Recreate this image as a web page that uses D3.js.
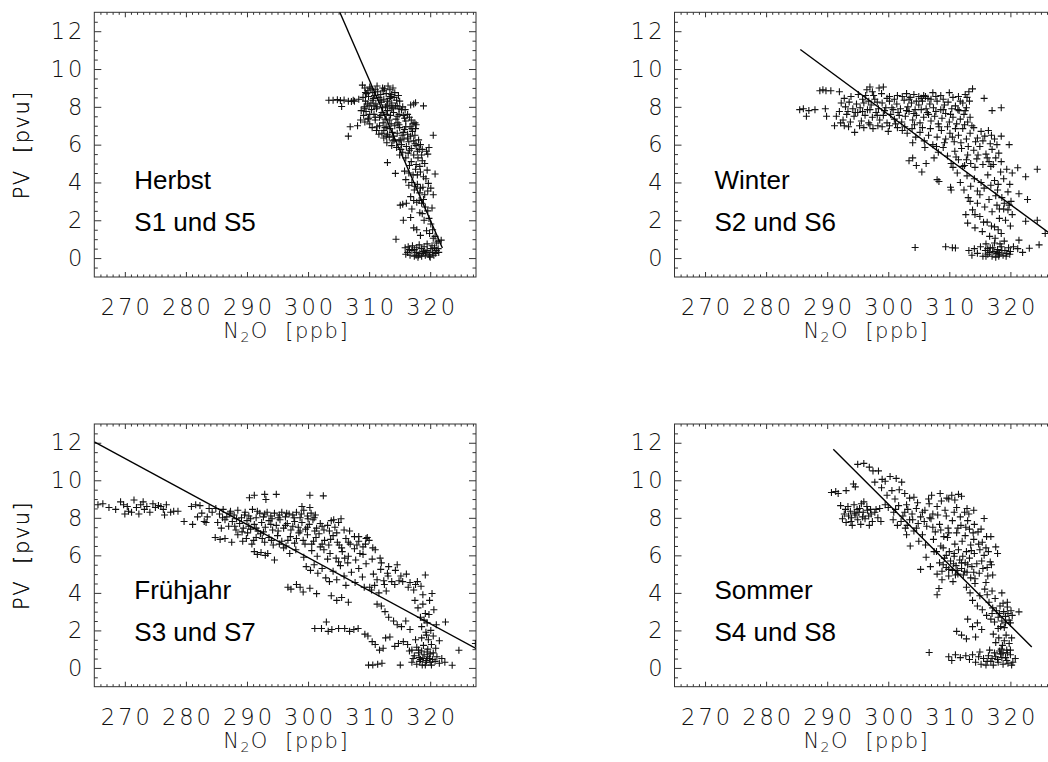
<!DOCTYPE html>
<html><head><meta charset="utf-8">
<script src="https://cdn.jsdelivr.net/npm/d3@7"></script>
<style>
body{margin:0;background:#fff;}
text{white-space:pre;}
</style></head>
<body>
<script>
// ---------- data ----------
const xTickValues = [270, 280, 290, 300, 310, 320];
const yTickValues = [0, 2, 4, 6, 8, 10, 12];
const xDomain = [265, 327.5];
const yDomain = [-1, 13];
const seasonNames = ["Herbst", "Winter", "Frühjahr", "Sommer"];
const flightNames = ["S1 und S5", "S2 und S6", "S3 und S7", "S4 und S8"];

// regression lines [[N2O, PV], [N2O, PV]]
const herbstLine = [[305.2, 13.0], [322.0, 0.53]];
const winterLine = [[285.6, 11.03], [327.5, 1.05]];
const fruehjahrLine = [[265.0, 12.05], [327.8, 0.98]];
const sommerLine = [[291.0, 11.65], [323.5, 1.12]];

const herbstPoints = [
[303.4,8.35],[304.1,8.35],[304.8,8.38],[305.3,8.33],[305.9,8.36],[306.6,8.3],[307.1,8.28],[307.4,8.35],[307.6,8.3],[308.3,8.4],[305.5,8.02],[306.9,6.95],[308.1,7.0],[306.6,6.45],
[308.9,9.15],[309.3,9.0],[309.8,8.85],[310.1,9.05],[310.6,8.75],[311.0,8.9],[311.4,8.8],[311.9,8.65],[312.3,8.85],[312.8,8.7],[313.1,9.1],[313.4,8.9],[313.9,9.0],[314.2,8.75],[309.6,8.7],[310.9,8.6],[312.5,8.95],[313.7,8.65],
[309.0,8.5],[309.4,8.3],[309.9,8.55],[310.3,8.2],[310.7,8.45],[311.1,8.15],[311.6,8.5],[312.0,8.25],[312.4,8.4],[312.9,8.1],[313.3,8.45],[313.7,8.2],[314.1,8.5],[314.6,8.05],[315.0,8.3],[314.8,8.6],[315.5,8.0],[316.8,8.1],[317.3,8.15],[317.6,8.22],[318.9,8.05],[309.2,8.0],[310.0,8.05],[311.3,8.0],[312.7,8.0],[313.9,7.95],
[308.7,7.8],[309.1,7.55],[309.5,7.75],[309.9,7.4],[310.4,7.85],[310.8,7.6],[311.2,7.9],[311.7,7.45],[312.1,7.7],[312.6,7.35],[313.0,7.8],[313.5,7.55],[314.0,7.7],[314.4,7.35],[314.9,7.6],[315.3,7.85],[315.8,7.4],[316.3,7.6],[316.9,7.3],[308.6,7.3],[309.3,7.2],[309.8,7.35],[311.0,7.3],[312.3,7.15],[313.3,7.3],[314.7,7.15],[316.0,7.25],[317.2,7.1],[317.5,7.15],[317.7,7.05],
[310.5,6.9],[311.2,6.75],[311.7,7.0],[312.1,6.6],[312.6,6.9],[313.0,6.55],[313.4,6.85],[313.8,6.65],[314.2,7.0],[314.6,6.6],[315.0,6.9],[315.4,6.5],[315.8,6.8],[316.3,6.55],[316.7,6.95],[317.1,6.7],[317.6,6.85],[311.6,6.55],[312.9,6.95],[314.0,6.45],[315.6,6.65],
[312.4,6.35],[312.9,6.1],[313.3,6.4],[313.7,5.95],[314.1,6.25],[314.5,5.85],[314.9,6.2],[315.3,6.0],[315.7,6.3],[316.1,5.9],[316.5,6.15],[316.9,5.8],[317.3,6.2],[317.7,5.95],[318.1,6.25],[318.4,6.0],[316.8,6.45],[317.5,6.5],[320.5,6.5],[319.8,5.85],[319.4,5.65],[318.7,5.75],
[315.0,5.45],[315.5,5.6],[316.0,5.3],[316.4,5.55],[316.9,5.1],[317.3,5.45],[317.7,4.95],[318.0,5.3],[318.3,4.85],[318.7,5.15],[319.1,5.0],[317.6,4.7],[316.5,4.5],[315.8,4.6],[317.2,4.4],[318.4,4.55],[319.5,4.65],[313.0,5.05],[314.3,4.48],[320.8,4.45],[319.6,5.5],
[316.0,4.15],[316.5,3.85],[317.0,4.0],[317.4,3.6],[317.9,3.9],[318.3,3.45],[318.8,3.75],[319.1,3.35],[319.6,3.55],[320.1,3.7],[320.5,3.35],[316.8,3.25],[317.3,3.05],[317.8,2.95],[318.2,3.05],[318.6,2.9],[318.9,3.1],[316.1,2.9],[315.5,2.85],[315.1,2.8],[320.3,2.65],[319.7,3.95],
[315.6,2.0],[316.8,2.15],[317.3,1.6],[317.8,1.5],[318.4,1.2],[319.4,1.45],[320.1,1.8],[319.0,2.0],[318.3,2.4],[319.6,2.5],[314.4,1.0],[320.8,1.15],[321.3,0.9],[321.8,0.95],[320.5,1.05],[319.9,1.3],
[315.9,0.55],[316.3,0.3],[316.7,0.15],[317.0,0.4],[317.4,0.1],[317.7,0.3],[318.0,0.05],[318.3,0.25],[318.6,0.1],[318.9,0.35],[319.2,0.15],[319.5,0.4],[319.8,0.2],[320.1,0.5],[320.4,0.3],[320.7,0.55],[321.0,0.4],[321.3,0.5],[317.1,0.65],[318.2,0.7],[319.5,0.75],[320.3,0.65],[318.6,0.5],[316.6,0.45],[317.8,0.55],[319.0,0.6],[320.9,0.25],[321.4,0.3],[316.0,0.2],[320.0,0.05],
[309.4,8.75],[310.3,8.95],[311.3,9.1],[312.2,9.0],[313.5,8.55],[314.5,8.35],[310.6,8.35],[311.8,8.35],[313.0,8.3],[314.3,8.05],[309.7,8.15],[310.8,8.05],[312.2,7.95],[313.4,8.05],[314.9,7.9],[315.9,7.85],[309.3,7.9],[310.1,7.6],[311.0,7.45],[311.9,7.55],[312.8,7.6],[313.7,7.9],[314.6,7.5],[315.6,7.55],[316.6,7.45],[310.1,7.1],[311.3,6.95],[312.4,6.75],[313.6,7.1],[314.9,7.05],[316.0,6.95],[317.0,6.85],[312.8,6.45],[313.9,6.2],[315.1,6.25],[316.3,6.35],[317.5,6.05],[318.2,5.75],[315.2,5.75],[316.6,5.7],[317.9,5.65],[318.6,5.45],[316.6,4.9],[317.9,4.4],[318.9,4.3],[317.5,3.8],[318.4,3.7],[319.3,4.2],[317.0,2.6],[318.7,2.35],[319.2,2.7],[319.8,2.1],[320.4,1.5],[321.0,0.8],[317.4,0.45],[318.1,0.15],[318.8,0.25],[319.3,0.3],[319.9,0.1],[320.6,0.15],[316.4,0.6],[317.7,0.15]
];

const winterPoints = [
[285.5,7.85],[286.1,7.9],[286.6,7.5],[287.0,7.8],[288.0,7.85],[289.7,7.9],[289.9,7.5],[288.8,8.85],[289.3,8.9],[289.8,8.85],[290.6,8.85],[292.0,8.8],
[296.5,8.9],[297.0,9.05],[298.5,9.0],[299.2,9.05],[297.6,8.6],[298.9,8.7],[300.2,8.55],[301.5,8.6],[303.0,8.7],[303.6,8.5],[304.2,8.65],[305.0,8.55],[305.8,8.6],[306.5,8.45],[307.3,8.75],[308.6,8.6],[310.0,8.75],[311.5,8.55],[312.6,8.65],[313.2,8.8],[313.8,8.95],[315.7,8.45],[295.8,8.4],[296.8,8.3],
[292.3,8.2],[293.0,8.0],[293.6,8.25],[294.2,7.9],[294.8,8.15],[295.4,7.95],[296.0,8.2],[296.6,7.85],[297.2,8.1],[297.8,8.4],[298.4,7.9],[299.0,8.2],[299.6,7.95],[300.2,8.3],[300.8,7.85],[301.4,8.15],[302.0,7.9],[302.6,8.35],[303.2,8.0],[303.8,8.2],[304.4,7.85],[305.0,8.1],[305.6,8.3],[306.2,7.9],[306.8,8.15],[307.4,7.95],[308.0,8.3],[308.6,7.85],[309.2,8.1],[309.8,8.25],[310.4,7.9],[311.0,8.05],[311.6,7.8],[312.2,8.2],[312.8,7.95],[313.3,8.3],[317.0,7.8],[318.5,7.95],
[291.5,7.5],[292.0,7.75],[292.6,7.3],[293.2,7.6],[293.8,7.2],[294.4,7.5],[295.0,7.7],[295.6,7.25],[296.2,7.55],[296.8,7.15],[297.4,7.45],[298.0,7.7],[298.6,7.3],[299.2,7.55],[299.8,7.15],[300.4,7.6],[301.0,7.35],[301.6,7.7],[302.2,7.2],[302.8,7.5],[303.4,7.75],[304.0,7.3],[304.6,7.55],[305.2,7.15],[305.8,7.45],[306.4,7.7],[307.0,7.25],[307.6,7.5],[308.2,7.1],[308.8,7.4],[309.4,7.65],[310.0,7.2],[310.6,7.45],[311.2,7.1],[311.8,7.35],[312.4,7.6],[313.0,7.2],[313.4,7.45],[291.2,7.0],[292.8,7.0],[294.5,6.65],[296.0,6.9],[297.5,6.85],[299.0,6.95],[300.0,6.7],
[301.5,6.9],[302.3,6.75],[303.1,6.6],[303.9,6.85],[304.5,6.4],[305.2,6.65],[305.9,6.2],[306.6,6.5],[307.3,6.0],[308.0,6.4],[308.7,6.75],[309.4,6.3],[310.1,6.6],[310.8,6.15],[311.5,6.5],[312.2,6.85],[312.8,6.3],[313.4,6.6],[314.0,6.9],[314.6,6.35],[315.2,6.7],[315.8,6.45],[316.4,6.75],[316.9,6.5],[317.4,6.3],[318.5,6.45],[319.8,6.0],[304.0,6.1],[306.0,5.85],
[303.4,5.15],[304.0,5.3],[304.6,4.9],[305.5,4.55],[306.2,5.0],[307.5,5.3],[308.2,5.6],[309.0,5.85],[309.7,5.4],[310.3,5.0],[310.9,5.65],[311.5,5.2],[312.0,5.8],[312.5,4.9],[313.0,5.45],[313.5,5.0],[314.0,5.7],[314.5,5.25],[315.0,5.9],[315.5,4.95],[316.0,5.5],[316.5,5.1],[317.0,5.75],[317.6,5.3],[318.1,5.55],[318.5,5.1],[316.8,4.85],[314.2,4.8],[312.2,4.85],[310.6,4.8],
[308.0,4.15],[308.3,4.05],[310.2,3.75],[310.3,3.6],[311.3,4.5],[311.8,4.0],[312.4,3.6],[312.9,4.35],[313.5,3.8],[314.1,4.2],[314.6,3.55],[315.2,4.0],[315.7,3.7],[316.3,4.4],[316.8,3.85],[317.4,4.1],[317.9,3.6],[318.4,4.55],[318.9,4.2],[319.4,4.7],[319.9,3.9],[320.3,4.5],[321.2,4.78],[322.5,4.3],[324.4,4.7],[321.4,3.4],[322.8,3.1],[319.6,3.5],[318.0,3.9],
[312.7,2.3],[313.0,1.85],[313.4,3.0],[313.8,2.55],[314.2,1.6],[314.6,2.9],[315.0,2.2],[315.4,1.4],[315.8,2.7],[316.2,1.9],[316.6,1.15],[317.0,2.45],[317.4,1.65],[317.8,2.8],[318.2,2.1],[318.5,1.3],[318.9,2.6],[319.2,2.0],[319.6,2.55],[320.0,1.7],[320.3,2.3],[319.8,2.8],[320.1,3.0],[318.6,3.2],[317.5,1.05],[322.5,1.95],[324.4,2.0],[325.7,1.3],[321.4,0.95],
[304.4,0.56],[309.4,0.6],[310.5,0.55],[311.0,0.53],[313.2,0.4],[313.7,0.15],[314.1,0.5],[314.6,0.25],[315.1,0.6],[315.5,0.1],[315.9,0.4],[316.3,0.2],[316.7,0.55],[317.0,0.1],[317.3,0.35],[317.6,0.05],[317.9,0.45],[318.2,0.2],[318.5,0.6],[318.8,0.15],[319.1,0.4],[319.4,0.25],[319.7,0.55],[320.0,0.35],[320.5,0.6],[321.2,0.5],[322.0,0.3],[323.1,0.52],[324.7,0.7],[316.0,0.75],[317.4,0.8],[318.3,0.75],[319.0,0.9],[316.6,0.3],[318.0,0.3],
[292.8,8.45],[293.9,8.55],[295.1,8.65],[296.3,8.6],[297.4,8.8],[298.2,8.25],[299.8,8.45],[301.0,8.4],[302.3,8.55],[303.4,8.4],[304.6,8.3],[305.4,8.45],[306.1,8.55],[307.0,8.4],[307.8,8.55],[309.0,8.4],[310.6,8.5],[311.8,8.3],[312.9,8.5],[293.4,7.75],[294.6,7.7],[295.8,7.75],[297.0,7.85],[298.2,7.55],[299.4,7.8],[300.6,7.95],[301.8,7.55],[303.0,7.8],[304.2,7.65],[305.4,7.85],[306.6,7.6],[307.8,7.75],[309.0,7.85],[310.2,7.6],[311.4,7.85],[312.6,7.8],[292.2,7.15],[293.5,6.95],[295.3,7.0],[297.0,7.05],[298.3,7.0],[300.2,7.0],[301.2,7.1],[302.7,6.95],[304.3,7.05],[305.6,6.9],[306.9,6.85],[308.3,6.95],[309.7,6.95],[311.0,6.85],[312.5,7.05],[313.7,7.0],[307.9,5.9],[309.2,6.1],[310.5,6.4],[311.9,6.1],[313.1,5.9],[314.3,6.15],[315.5,6.2],[316.7,6.05],[317.8,6.0],[311.1,5.35],[312.8,5.2],[314.7,5.45],[316.2,5.3],[317.2,4.95],[313.1,3.2],[315.0,3.35],[316.5,3.1],[317.6,3.3],[318.2,2.6],[319.0,2.9],[314.2,2.3],[315.6,1.9],[316.9,1.7],[318.0,1.5],[316.3,0.5],[317.1,0.55],[318.1,0.1],[318.6,0.4],[319.3,0.1],[319.9,0.2],[317.8,0.25],[316.0,0.1]
];

const fruehjahrPoints = [
[265.6,8.7],[266.4,8.75],[267.4,8.55],[268.5,8.45],[269.3,8.85],[269.8,8.7],[270.4,8.6],[270.6,8.35],[271.1,8.3],[271.5,8.95],[271.9,8.55],[272.3,8.2],[272.6,8.7],[273.2,8.45],[273.6,8.6],[274.1,8.3],[274.6,8.75],[275.0,8.55],[275.5,8.65],[275.9,8.6],[276.3,8.45],[276.5,8.15],[276.8,8.7],[277.5,8.3],[278.0,8.35],[278.7,8.35],[273.0,8.85],[270.0,8.2],
[279.7,7.8],[281.1,7.65],[281.9,8.05],[280.9,8.6],[281.6,8.7],[282.3,8.65],[283.0,7.8],[283.3,7.75],[283.8,8.5],[284.3,8.3],[282.6,8.25],[283.5,8.05],
[284.9,8.5],[285.5,8.2],[286.1,8.45],[286.7,8.05],[287.3,8.35],[287.9,8.15],[288.5,8.4],[289.1,8.0],[289.7,8.3],[290.3,8.1],[290.9,8.45],[291.5,8.0],[292.1,8.25],[292.7,8.05],[293.3,8.3],[293.9,8.1],[294.5,8.25],[295.1,8.0],[295.7,8.3],[296.3,8.05],[296.9,8.2],[297.5,8.15],[298.1,8.3],[298.7,8.0],[299.3,8.4],[299.9,8.1],[300.5,8.25],[300.3,8.55],[299.0,8.6],[301.0,8.0],
[285.2,7.75],[285.8,7.45],[286.4,7.9],[287.0,7.55],[287.6,7.8],[288.2,7.35],[288.8,7.7],[289.4,7.45],[290.0,7.85],[290.6,7.4],[291.2,7.65],[291.8,7.3],[292.4,7.75],[293.0,7.5],[293.6,7.85],[294.2,7.35],[294.8,7.6],[295.4,7.9],[296.0,7.45],[296.6,7.7],[297.2,7.35],[297.8,7.8],[298.4,7.5],[299.0,7.75],[299.6,7.4],[300.2,7.65],[300.8,7.9],[301.4,7.45],[302.0,7.7],[302.6,7.35],[303.2,7.6],[303.8,7.85],[304.4,7.5],[305.0,7.75],[301.8,7.15],
[284.8,6.95],[285.6,6.85],[286.4,6.9],[287.5,6.7],[288.5,7.1],[289.3,6.75],[290.1,7.2],[290.8,6.6],[291.5,6.95],[292.2,7.15],[292.9,6.7],[293.6,6.95],[294.3,6.55],[295.0,7.05],[295.7,6.75],[296.4,6.5],[297.1,7.0],[297.8,6.65],[298.5,7.2],[299.2,6.8],[299.9,7.1],[300.6,6.6],[301.3,6.95],[302.0,6.45],[302.7,6.8],[303.4,6.55],[304.1,7.05],[304.8,6.7],[305.5,6.4],[306.2,6.9],[306.9,6.6],[307.6,7.0],[308.3,6.75],[309.0,6.45],[309.7,6.95],[310.0,6.8],
[291.2,6.2],[291.7,6.05],[292.3,6.15],[293.0,6.0],[293.4,6.1],[294.5,5.75],[296.0,6.4],[297.0,6.1],[298.0,6.3],[299.3,5.9],[300.6,6.25],[301.5,5.95],[302.6,6.3],[303.6,6.1],[304.6,5.85],[305.6,6.2],[306.6,5.95],[307.6,6.35],[308.5,6.1],
[299.7,5.4],[300.4,5.2],[301.0,5.5],[301.6,5.05],[302.3,5.3],[302.9,4.8],[303.5,4.6],[304.1,5.15],[304.7,4.7],[305.3,5.45],[305.9,4.9],[306.5,5.6],[307.1,5.1],[307.7,4.55],[308.3,5.3],[308.9,4.85],[309.5,5.55],[310.1,4.3],[310.7,5.0],[311.3,4.7],[311.9,5.25],[312.5,4.45],[313.1,4.9],[313.7,4.6],[314.3,5.2],[314.9,4.65],[315.5,4.6],[316.1,5.0],[316.7,4.55],[317.3,4.15],[317.9,4.6],[318.5,4.35],[319.2,4.95],[310.4,4.15],[309.2,4.3],[311.6,4.0],[312.8,4.1],[306.2,4.4],[306.0,5.85],[307.8,5.75],[309.0,6.05],[310.5,5.8],[312.0,5.6],[313.2,5.4],[314.6,5.5],[303.2,5.8],[305.0,5.65],
[304.2,7.9],[305.4,7.95],[306.8,7.3],[308.3,7.0],[309.5,6.9],[310.6,6.4],
[290.4,9.07],[291.2,9.2],[292.9,9.25],[293.1,8.98],[294.8,9.25],[300.3,9.2],[302.5,9.17],
[296.7,4.3],[297.2,4.2],[298.1,4.45],[298.7,4.3],[299.2,4.05],[300.3,4.25],[301.4,3.96],[303.8,3.85],[304.7,3.6],[305.5,3.75],[306.6,3.5],
[301.1,2.1],[302.2,2.1],[303.0,2.45],[303.3,1.95],[303.9,2.05],[305.0,2.1],[306.0,2.1],[306.8,1.95],[307.5,2.05],[308.2,2.1],
[309.3,1.8],[309.8,1.7],[310.5,1.4],[311.0,1.25],[311.7,0.95],[312.3,1.05],[312.7,1.6],
[309.9,0.15],[310.6,0.15],[311.4,0.2],[312.1,0.25],[315.1,0.15],
[313.4,1.65],[314.2,1.15],[314.8,1.3],[315.6,1.4],[316.3,1.25],[317.0,0.95],[317.6,1.5],[318.1,0.8],
[312.0,3.3],[312.6,3.0],[313.2,2.7],[314.0,2.5],[314.6,2.3],[311.3,3.4],[315.3,2.2],[316.0,2.5],[316.7,2.05],
[317.5,3.6],[318.0,3.2],[318.4,2.7],[318.8,3.4],[319.2,2.9],[319.5,2.4],[319.9,3.6],[320.3,3.97],[320.6,3.1],[320.1,2.0],[319.3,1.9],[318.6,1.6],[319.7,1.5],[320.5,1.7],[321.0,2.3],[322.5,2.45],[321.5,1.45],
[316.6,0.9],[317.0,0.3],[317.4,0.65],[317.8,0.2],[318.1,0.95],[318.4,0.45],[318.7,0.15],[319.0,0.7],[319.3,0.3],[319.6,1.0],[319.9,0.5],[320.2,0.15],[320.5,0.8],[320.8,0.35],[321.1,0.6],[321.5,0.25],[321.9,0.5],[322.4,0.3],[318.2,0.55],[319.5,0.85],[320.0,0.3],[318.9,1.2],[323.6,0.14],[324.7,0.94],[327.4,1.3],[317.8,1.1],[320.9,1.05],
[286.0,8.0],[287.2,8.25],[288.3,7.95],[289.6,8.15],[290.6,7.95],[291.7,8.35],[292.9,8.2],[294.1,7.95],[295.3,8.15],[296.5,8.25],[297.7,8.0],[298.9,8.2],[300.0,7.95],[301.2,8.15],[288.0,7.55],[289.2,7.25],[290.3,7.55],[291.5,7.45],[292.7,7.25],[293.9,7.65],[295.1,7.3],[296.3,7.6],[297.5,7.55],[298.7,7.3],[299.9,7.5],[301.1,7.3],[302.3,7.55],[303.5,7.3],[304.7,7.2],[305.9,7.35],[289.9,6.9],[291.1,6.8],[292.5,6.9],[294.0,6.8],[295.3,6.6],[296.7,6.8],[298.1,6.9],[299.5,6.6],[300.9,6.75],[302.3,6.6],[303.7,6.85],[305.1,6.55],[306.6,6.7],[308.0,6.55],[309.4,6.6],[311.0,6.3],[311.8,5.85],[313.0,5.05],[314.2,4.45],[315.2,4.9],[316.4,4.3],[317.6,4.45],[318.8,3.9],[312.4,4.65],[310.9,4.4],[318.6,2.2],[319.0,2.55],[319.4,1.75],[319.8,2.85],[320.2,1.25],[318.3,0.35],[318.8,0.5],[319.2,0.15],[319.6,0.6],[320.0,0.75],[320.4,0.45],[319.4,0.4],[318.6,0.9],[317.2,0.5]
];

const sommerPoints = [
[290.7,9.35],[291.4,9.4],[291.8,9.3],[293.1,9.45],[294.3,9.8],[294.6,9.65],
[292.2,8.65],[292.8,8.2],[293.1,7.75],[293.4,8.6],[293.8,8.35],[294.1,7.6],[294.4,8.7],[294.7,8.15],[295.0,7.9],[295.3,8.5],[295.6,8.75],[295.9,8.3],[296.2,7.95],[296.5,8.6],[296.8,8.1],[297.1,8.45],[297.4,7.8],[297.8,8.3],[294.0,8.0],[295.5,7.65],[292.5,7.95],[296.0,8.85],[293.5,8.1],[294.9,8.45],[296.9,7.6],[298.3,8.0],[298.8,7.8],[299.5,8.7],[298.6,8.5],
[295.0,10.85],[296.0,10.9],[296.9,10.7],[297.5,10.5],[298.4,10.5],[299.0,10.05],[299.5,9.95],[300.3,10.2],[301.3,10.1],[302.2,9.9],[297.8,9.9],[298.9,9.6],[300.6,9.45],[301.8,9.5],[302.7,9.3],[303.5,9.05],[299.8,9.2],[301.1,9.0],[303.0,8.7],[304.2,9.1],[304.8,8.8],
[300.0,8.55],[300.9,8.3],[301.7,8.65],[302.4,8.1],[303.2,8.45],[303.9,8.2],[304.6,8.5],[305.3,8.05],[306.0,8.4],[306.7,8.75],[307.3,8.2],[308.0,8.6],[308.7,8.9],[309.3,8.4],[309.9,9.0],[310.4,9.2],[310.9,8.95],[311.5,9.25],[312.0,9.15],[307.1,9.2],[306.6,9.0],[308.5,9.3],[309.6,9.05],[311.2,8.55],[312.5,8.3],[313.2,8.2],[314.0,8.4],[315.7,7.96],[312.9,8.5],
[302.1,7.8],[302.8,7.45],[303.5,7.9],[304.2,7.3],[304.9,7.7],[305.6,7.1],[306.3,7.55],[307.0,7.95],[307.7,7.25],[308.4,7.65],[309.1,7.0],[309.8,7.45],[310.5,7.85],[311.2,7.2],[311.9,7.6],[312.6,7.05],[313.3,7.4],[314.0,6.85],[314.7,7.25],[315.4,6.7],[316.1,7.0],[316.8,7.0],[305.0,6.75],[306.1,6.55],[307.4,6.85],[308.6,6.5],[309.7,6.95],[310.9,6.6],[312.1,6.75],[313.5,6.55],[314.8,6.6],[316.0,6.4],[317.6,6.45],[303.6,6.5],[300.8,7.9],[301.5,7.6],[303.0,7.1],
[305.3,5.25],[306.2,5.9],[306.9,5.4],[307.5,6.2],[308.0,5.0],[308.4,5.6],[308.8,5.15],[309.2,5.85],[309.5,5.35],[309.9,4.9],[310.2,5.7],[310.5,5.2],[310.8,5.95],[311.1,5.45],[311.4,5.0],[311.7,5.75],[312.0,5.3],[312.3,4.95],[312.6,5.6],[312.9,5.1],[313.3,5.85],[313.7,5.4],[314.1,6.1],[314.5,5.55],[314.9,5.05],[315.3,5.7],[315.7,6.0],[316.2,5.35],[316.7,5.65],[317.1,4.95],[317.9,6.1],[310.0,6.2],[311.5,6.3],[309.0,6.4],[312.8,6.2],[308.8,4.7],[310.6,4.6],[313.5,4.8],
[308.3,4.23],[308.0,3.9],[312.8,4.3],[313.4,4.0],[313.8,3.6],[314.2,4.5],[314.6,3.3],[315.0,3.85],[315.4,3.1],[315.8,4.2],[316.1,2.8],[316.5,3.5],[316.8,2.6],[317.1,3.2],[317.4,2.45],[317.7,3.05],[318.0,2.7],[318.3,3.3],[318.6,2.5],[318.9,3.0],[319.2,2.75],[319.5,3.25],[319.8,2.55],[320.1,3.05],[320.3,2.8],[321.4,2.99],[317.0,4.1],[318.6,4.0],[319.5,3.5],[316.2,3.9],[313.0,2.6],[313.8,2.2],[314.6,2.4],[315.3,2.05],[311.2,1.95],[312.0,1.75],[312.8,1.55],[314.3,1.65],[317.2,1.8],[317.6,1.35],[318.1,1.6],[318.5,1.0],[319.0,1.45],[319.4,0.95],[319.8,1.3],[320.2,1.6],[318.0,2.1],[319.0,2.15],
[306.7,0.82],[309.9,0.6],[310.4,0.4],[311.0,0.7],[311.8,0.55],[312.7,0.65],[313.3,0.45],[313.8,0.7],[314.3,0.3],[314.8,0.6],[315.2,0.2],[315.6,0.5],[316.0,0.15],[316.4,0.65],[316.8,0.35],[317.2,0.15],[317.6,0.6],[318.0,0.3],[318.4,0.75],[318.8,0.2],[319.2,0.55],[319.6,0.25],[320.0,0.7],[320.4,0.3],[320.8,0.5],[315.0,0.85],[316.6,0.95],[318.2,0.9],[319.5,0.8],[317.0,0.5],
[293.0,8.45],[294.5,8.25],[295.8,8.05],[297.2,8.2],[293.9,7.8],[295.2,8.3],[296.6,8.4],[298.0,8.45],[301.2,8.45],[302.7,8.3],[304.0,7.9],[305.6,8.3],[306.8,8.0],[308.1,8.15],[309.5,8.1],[310.8,8.3],[311.8,8.05],[313.0,7.85],[314.1,7.65],[303.1,7.6],[304.6,7.45],[305.9,7.8],[307.3,7.5],[308.6,7.35],[309.9,7.2],[311.4,7.45],[312.7,7.5],[313.9,7.2],[315.2,7.4],[307.9,6.2],[309.5,6.0],[310.8,6.1],[312.2,5.95],[313.6,6.25],[315.0,6.3],[316.4,6.2],[309.0,5.5],[309.9,5.25],[310.7,5.55],[311.3,5.2],[312.0,5.6],[312.5,5.15],[311.0,4.95],[313.0,5.5],[314.0,5.1],[315.5,5.3],[316.3,4.9],[316.9,5.5],[314.2,4.75],[316.0,4.55],[317.5,3.7],[318.8,3.45],[319.2,2.4],[318.2,2.9],[317.0,2.9],[319.6,2.9],[320.0,2.4],[318.4,2.2],[318.7,1.2],[319.3,1.75],[320.0,0.95],[317.9,0.45],[318.6,0.55],[319.4,0.4],[320.2,0.15],[316.2,0.35],[317.4,0.8],[318.8,0.8]
];

// ---------- drawing ----------
const W = 1048, H = 762;
const panelW = 381.7;
const layout = [
  {left: 94.3, top: 12.3, bottom: 277},
  {left: 674.5, top: 12.3, bottom: 277},
  {left: 94.3, top: 424, bottom: 686.7},
  {left: 674.5, top: 424, bottom: 686.7}
];
const allPoints = [herbstPoints, winterPoints, fruehjahrPoints, sommerPoints];
const allLines = [herbstLine, winterLine, fruehjahrLine, sommerLine];

const tickFont = '"DejaVu Sans", sans-serif';
const tickSize = 22.5;
const titleSize = 21;
const frameColor = "#333";

const svg = d3.select("body").append("svg")
  .attr("width", W).attr("height", H)
  .style("display", "block");

const xMinor = d3.range(266, 328, 1).filter(v => !xTickValues.includes(v));
const yMinor = d3.range(-0.5, 13, 0.5).filter(v => !yTickValues.includes(v));

const plus = "M-3.5,0H3.5M0,-3.5V3.5";

layout.forEach((L, i) => {
  const h = L.bottom - L.top;
  const g = svg.append("g").attr("transform", `translate(${L.left},${L.top})`);
  const x = d3.scaleLinear().domain(xDomain).range([0, panelW]);
  const y = d3.scaleLinear().domain(yDomain).range([h, 0]);

  g.append("clipPath").attr("id", "clip" + i)
    .append("rect").attr("width", panelW).attr("height", h);

  const styleAxis = sel => {
    sel.select(".domain").remove();
    sel.selectAll("line").attr("stroke", frameColor).attr("stroke-width", 1);
  };
  // minor ticks (all four sides, pointing inward)
  g.append("g").attr("transform", `translate(0,${h})`)
    .call(d3.axisBottom(x).tickValues(xMinor).tickSize(-2.5).tickFormat(""))
    .call(styleAxis);
  g.append("g")
    .call(d3.axisTop(x).tickValues(xMinor).tickSize(-2.5).tickFormat(""))
    .call(styleAxis);
  g.append("g")
    .call(d3.axisLeft(y).tickValues(yMinor).tickSize(-3.5).tickFormat(""))
    .call(styleAxis);
  g.append("g").attr("transform", `translate(${panelW},0)`)
    .call(d3.axisRight(y).tickValues(yMinor).tickSize(-3.5).tickFormat(""))
    .call(styleAxis);

  // major ticks with labels
  const xa = g.append("g").attr("transform", `translate(0,${h})`)
    .call(d3.axisBottom(x).tickValues(xTickValues).tickSize(-5).tickPadding(22).tickFormat(d3.format("d")))
    .call(styleAxis);
  g.append("g")
    .call(d3.axisTop(x).tickValues(xTickValues).tickSize(-5).tickFormat(""))
    .call(styleAxis);
  const ya = g.append("g")
    .call(d3.axisLeft(y).tickValues(yTickValues).tickSize(-7).tickPadding(9).tickFormat(d3.format("d")))
    .call(styleAxis);
  g.append("g").attr("transform", `translate(${panelW},0)`)
    .call(d3.axisRight(y).tickValues(yTickValues).tickSize(-7).tickFormat(""))
    .call(styleAxis);

  [xa, ya].forEach(a => a.selectAll("text")
    .attr("font-family", tickFont).attr("font-size", tickSize)
    .attr("font-weight", 200).attr("letter-spacing", 3).attr("fill", "#111"));
  xa.selectAll("text").attr("dx", 1.5);

  // frame
  g.append("rect").attr("width", panelW).attr("height", h)
    .attr("fill", "none").attr("stroke", frameColor).attr("stroke-width", 1);

  // points
  const pg = g.append("g").attr("clip-path", `url(#clip${i})`);
  pg.selectAll("path.pt").data(allPoints[i]).join("path")
    .attr("class", "pt")
    .attr("transform", d => `translate(${x(d[0])},${y(d[1])})`)
    .attr("d", plus)
    .attr("stroke", "#111").attr("stroke-width", 1.1).attr("fill", "none");

  // regression line
  pg.append("path")
    .attr("d", d3.line().x(d => x(d[0])).y(d => y(d[1]))(allLines[i]))
    .attr("stroke", "#000").attr("stroke-width", 1.4).attr("fill", "none");

  // season labels
  g.append("text").attr("x", 40).attr("y", y(3.68))
    .attr("font-family", '"Liberation Sans", Arial, sans-serif').attr("font-size", 26)
    .attr("fill", "#000").text(seasonNames[i]);
  g.append("text").attr("x", 40).attr("y", y(1.42))
    .attr("font-family", '"Liberation Sans", Arial, sans-serif').attr("font-size", 26)
    .attr("fill", "#000").text(flightNames[i]);

  // x title
  const xt = g.append("text").attr("x", panelW / 2 + 1).attr("y", h + 61)
    .attr("text-anchor", "middle").attr("font-family", tickFont)
    .attr("font-size", titleSize).attr("font-weight", 200)
    .attr("letter-spacing", 1.5).attr("fill", "#111");
  xt.append("tspan").text("N");
  xt.append("tspan").attr("font-size", 14).attr("dy", 4).text("2");
  xt.append("tspan").attr("dy", -4).text("O  [ppb]");

  // y title
  g.append("text")
    .attr("transform", `translate(${-L.left + 29},${h / 2}) rotate(-90)`)
    .attr("text-anchor", "middle").attr("font-family", tickFont)
    .attr("font-size", titleSize).attr("font-weight", 200)
    .attr("letter-spacing", 1.5).attr("fill", "#111")
    .text("PV  [pvu]");
});
</script>
</body></html>
